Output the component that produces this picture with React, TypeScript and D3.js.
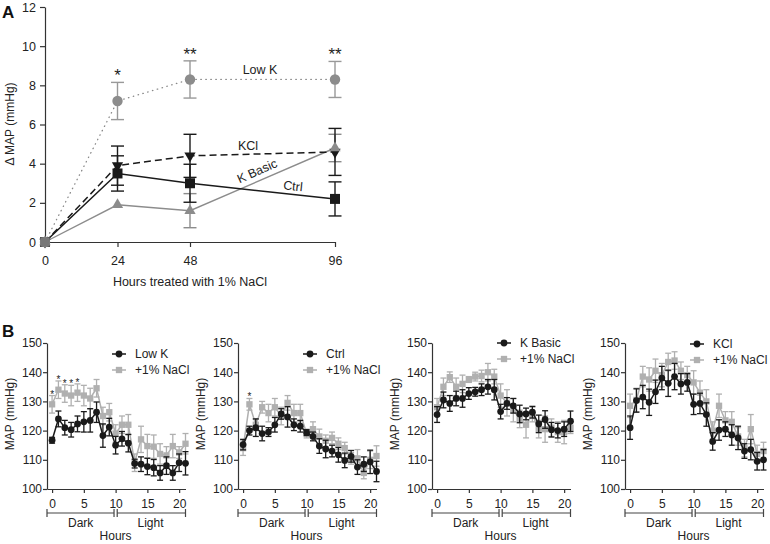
import React, { useEffect, useRef } from 'react';
import * as d3 from 'd3';

// ---- Panel A: change in MAP after 1% NaCl ----
const hoursA = [0, 24, 48, 96];
const lowK = [0, 7.2, 8.3, 8.3];
const lowKErr = [0, 0.95, 0.95, 0.92];
const kcl = [0, 3.9, 4.4, 4.6];
const kclErr = [0, 1.0, 1.1, 1.2];
const ctrl = [0, 3.5, 3.0, 2.2];
const ctrlErr = [0, 0.9, 0.97, 0.87];
const kBasic = [0, 1.9, 1.6, 4.8];
const kBasicErr = [0, 0, 0.87, 0.7];
const yTicksA = [0, 2, 4, 6, 8, 10, 12];
const starsA = ['', '*', '**', '**'];

// ---- Panel B: hourly MAP, baseline vs +1% NaCl ----
const hoursB = [0, 1, 2, 3, 4, 5, 6, 7, 8, 9, 10, 11, 12, 13, 14, 15, 16, 17, 18, 19, 20, 21];
const xTicksB = [0, 5, 10, 15, 20];
const yTicksB = [100, 110, 120, 130, 140, 150];

const lowKBase = [116.7, 124, 121, 120.3, 122.3, 123, 123.5, 126.3, 118.3, 121.2, 115, 117.2, 115.7, 108.7, 108.5, 107.7, 107.3, 105.5, 108, 105.5, 109, 108.8];
const lowKBaseErr = [1, 2.7, 2.5, 2.5, 2.7, 3.5, 4, 3.5, 4, 3, 3, 2.5, 3, 1.5, 2.5, 2.8, 2.8, 2.5, 3, 2.5, 3, 4];
const lowKSalt = [129, 134, 132.7, 132, 133, 132, 131, 134.5, 125, 126.3, 119, 122, 122, 109, 117, 114.7, 114.5, 112, 111.5, 114.7, 112.5, 115.5];
const lowKSaltErr = [3, 3, 3, 3.5, 3, 3.5, 3.5, 3, 3, 3, 3, 3, 3.5, 3, 4.5, 4, 4, 3.5, 3, 4, 2, 3.5];

const ctrlBase = [115.2, 120, 121, 119, 119.5, 122, 125.7, 124.7, 122, 121.5, 119.3, 118, 114.7, 113.7, 113, 111.7, 109.8, 111.2, 107.5, 108.5, 109.3, 106];
const ctrlBaseErr = [1.8, 1.5, 3, 2.5, 1.5, 2.5, 1.8, 3.5, 2, 2, 1, 1.5, 2.5, 3, 2, 2.5, 2.5, 2, 2.5, 2.5, 4, 3.5];
const ctrlSalt = [114, 129, 122, 128, 126, 128, 125, 129.5, 126, 126, 119, 120.5, 118, 116.5, 117.5, 115.5, 114, 110.5, 110.5, 105.5, 110, 111.3];
const ctrlSaltErr = [2.5, 2, 2, 2, 3, 3, 3, 2.5, 3, 3, 1.5, 2.5, 2.5, 2, 2, 2, 2, 2, 3, 2, 3, 3.5];

const kBasicBase = [125.5, 130.5, 129.3, 131, 131, 132.7, 133.3, 134, 135, 134, 126.5, 129.3, 128.5, 125.7, 125.7, 126.3, 122.3, 123.8, 120.3, 120, 120.5, 123.2];
const kBasicBaseErr = [2.7, 2.7, 2.7, 2.5, 3, 2, 1.5, 2, 2.5, 3.5, 2.5, 2, 2.5, 3, 2, 2, 3, 3, 2.5, 2.5, 2.5, 3.5];
const kBasicSalt = [128, 135, 138.3, 135, 136, 137.5, 138.5, 138.7, 140, 138.5, 132, 129.5, 127, 124, 122, 125.5, 120.5, 120.5, 121, 119.5, 119.5, 121];
const kBasicSaltErr = [3, 3, 1.8, 3, 3, 1, 1.5, 2, 3, 2.5, 4, 4.5, 4, 3, 4.5, 2.5, 3, 4.5, 3, 3.5, 4, 2];

const kclBase = [121, 130.3, 131.5, 129.7, 133.3, 138, 136.2, 138.5, 136, 136.5, 129, 129.3, 125.5, 116.3, 120.2, 120.5, 118.5, 117.5, 113, 113.5, 109.5, 110];
const kclBaseErr = [4, 4, 4, 4.5, 4, 4, 4.5, 4.5, 3.5, 3, 3.5, 3.5, 4, 3, 3.5, 2.5, 3.5, 4, 2.5, 3.5, 3, 3.5];
const kclSalt = [128.5, 130.5, 138.5, 137.5, 140.5, 139, 143.5, 144, 140.5, 139, 136.5, 133, 130, 120, 128.5, 123.5, 123, 118, 114, 120.5, 112, 113];
const kclSaltErr = [4, 4, 3.5, 4, 4, 4, 3, 3, 3, 3, 4, 4, 4, 3, 4, 3, 3.5, 3, 3, 5, 3, 3];

const lowKStars = [0, 1, 2, 3, 4];
const ctrlStars = [1];

const FONT = 'Arial, "Liberation Sans", Helvetica, sans-serif';
const BLACK = '#1a1a1a';
const GRAY_A = '#8c8c8c';
const GRAY_B = '#b0b0b0';
const AXIS = '#333';

function styleAxis(g, size) {
  g.attr('font-family', FONT).attr('font-size', size);
  g.selectAll('path, line').attr('stroke', AXIS).attr('stroke-width', 1.2);
  g.selectAll('text').attr('fill', '#222');
}

function errorBars(g, xs, vals, errs, x, y, color, capW, width) {
  xs.forEach((h, i) => {
    if (!errs[i]) return;
    const cx = x(h);
    const top = y(vals[i] + errs[i]);
    const bot = y(vals[i] - errs[i]);
    g.append('line').attr('x1', cx).attr('x2', cx).attr('y1', top).attr('y2', bot)
      .attr('stroke', color).attr('stroke-width', width);
    [top, bot].forEach(yy => {
      g.append('line').attr('x1', cx - capW / 2).attr('x2', cx + capW / 2).attr('y1', yy).attr('y2', yy)
        .attr('stroke', color).attr('stroke-width', width);
    });
  });
}

function markers(g, xs, vals, x, y, type, size, color, rotate = 0) {
  const sym = d3.symbol().type(type).size(size);
  g.selectAll(null).data(xs).enter().append('path')
    .attr('d', sym())
    .attr('transform', (h, i) => `translate(${x(h)},${y(vals[i])}) rotate(${rotate})`)
    .attr('fill', color);
}

function drawPanelA(svg) {
  const x = d3.scaleLinear().domain([0, 96]).range([45, 335]);
  const y = d3.scaleLinear().domain([0, 12]).range([242, 7]);

  const ay = svg.append('g').attr('transform', 'translate(45,0)')
    .call(d3.axisLeft(y).tickValues(yTicksA).tickSize(5).tickPadding(4).tickSizeOuter(0));
  styleAxis(ay, 12.5);
  const ax = svg.append('g').attr('transform', 'translate(0,242)')
    .call(d3.axisBottom(x).tickValues(hoursA).tickSize(5).tickPadding(9).tickSizeOuter(0));
  styleAxis(ax, 12.5);

  svg.append('text').attr('x', 190).attr('y', 286).attr('text-anchor', 'middle')
    .attr('font-size', 12.5).attr('fill', '#222').text('Hours treated with 1% NaCl');
  svg.append('text').attr('transform', 'translate(14,124) rotate(-90)').attr('text-anchor', 'middle')
    .attr('font-size', 12).attr('fill', '#222').text('Δ MAP (mmHg)');
  svg.append('text').attr('x', 2).attr('y', 18).attr('font-size', 17).attr('font-weight', 'bold')
    .attr('fill', '#111').text('A');

  const line = (vals) => d3.line().x((h) => x(h)).y((h, i) => y(vals[i]))(hoursA);
  const g = svg.append('g');

  // lines
  g.append('path').attr('d', line(kBasic)).attr('fill', 'none').attr('stroke', GRAY_A).attr('stroke-width', 1.4);
  g.append('path').attr('d', line(ctrl)).attr('fill', 'none').attr('stroke', BLACK).attr('stroke-width', 1.5);
  g.append('path').attr('d', line(kcl)).attr('fill', 'none').attr('stroke', BLACK).attr('stroke-width', 1.5)
    .attr('stroke-dasharray', '7,4');
  g.append('path').attr('d', line(lowK)).attr('fill', 'none').attr('stroke', '#888').attr('stroke-width', 1.3)
    .attr('stroke-dasharray', '0.5,4.5').attr('stroke-linecap', 'round');

  // error bars
  errorBars(g, hoursA, kBasic, kBasicErr, x, y, GRAY_A, 13, 1.4);
  errorBars(g, hoursA, ctrl, ctrlErr, x, y, BLACK, 13, 1.4);
  errorBars(g, hoursA, kcl, kclErr, x, y, BLACK, 13, 1.4);
  errorBars(g, hoursA, lowK, lowKErr, x, y, '#999', 13, 1.4);

  // markers
  markers(g, hoursA, ctrl, x, y, d3.symbolSquare, 100, BLACK);
  markers(g, hoursA, kcl, x, y, d3.symbolTriangle, 55, BLACK, 180);
  markers(g, hoursA, lowK, x, y, d3.symbolCircle, 85, GRAY_A);
  markers(g, hoursA, kBasic, x, y, d3.symbolTriangle, 55, GRAY_A);
  // overlapping start point
  markers(g, [0], [0], x, y, d3.symbolSquare, 90, '#777');

  // significance stars
  hoursA.forEach((h, i) => {
    if (!starsA[i]) return;
    g.append('text').attr('x', x(h)).attr('y', y(lowK[i] + lowKErr[i]) - 1)
      .attr('text-anchor', 'middle').attr('font-size', 17).attr('fill', '#222').text(starsA[i]);
  });

  // series labels
  const lab = (txt, cx, cy, rot) => g.append('text')
    .attr('transform', `translate(${cx},${cy}) rotate(${rot})`).attr('text-anchor', 'middle')
    .attr('dy', '0.35em').attr('font-size', 12.5).attr('fill', '#222').text(txt);
  lab('Low K', 260, 70, 0);
  lab('KCl', 248, 146, 0);
  lab('K Basic', 257, 171, -24);
  lab('Ctrl', 293, 186, 6);
}

function drawPanelB(svg, p) {
  const left = p.left;
  const x = d3.scaleLinear().domain([-0.8, 21]).range([left, left + 138.5]);
  const y = d3.scaleLinear().domain([100, 150]).range([489, 343]);

  const ay = svg.append('g').attr('transform', `translate(${left},0)`)
    .call(d3.axisLeft(y).tickValues(yTicksB).tickSize(4).tickPadding(1).tickSizeOuter(0));
  styleAxis(ay, 12);
  const ax = svg.append('g').attr('transform', 'translate(0,489)')
    .call(d3.axisBottom(x).tickValues(xTicksB).tickSize(4).tickPadding(6).tickSizeOuter(0));
  styleAxis(ax, 12);

  svg.append('text').attr('transform', `translate(${left - 33},414) rotate(-90)`).attr('text-anchor', 'middle')
    .attr('font-size', 12).attr('fill', '#222').text('MAP (mmHg)');

  // Dark / Light bracket
  const by = 513;
  const br = svg.append('g').attr('stroke', '#444').attr('stroke-width', 1.2);
  [[-0.8, 9.75], [10.25, 21]].forEach(([a, b]) => {
    br.append('line').attr('x1', x(a)).attr('x2', x(b)).attr('y1', by).attr('y2', by);
    br.append('line').attr('x1', x(a)).attr('x2', x(a)).attr('y1', by - 4).attr('y2', by + 4);
    br.append('line').attr('x1', x(b)).attr('x2', x(b)).attr('y1', by - 4).attr('y2', by + 4);
  });
  svg.append('text').attr('x', x(4.5)).attr('y', 527).attr('text-anchor', 'middle').attr('font-size', 12)
    .attr('fill', '#222').text('Dark');
  svg.append('text').attr('x', x(15.5)).attr('y', 527).attr('text-anchor', 'middle').attr('font-size', 12)
    .attr('fill', '#222').text('Light');
  svg.append('text').attr('x', x(10)).attr('y', 540).attr('text-anchor', 'middle').attr('font-size', 12)
    .attr('fill', '#222').text('Hours');

  const line = (vals) => d3.line().x((h) => x(h)).y((h, i) => y(vals[i]))(hoursB);
  const g = svg.append('g');

  g.append('path').attr('d', line(p.salt)).attr('fill', 'none').attr('stroke', GRAY_B).attr('stroke-width', 1.5);
  errorBars(g, hoursB, p.salt, p.saltErr, x, y, GRAY_B, 6, 1.3);
  markers(g, hoursB, p.salt, x, y, d3.symbolSquare, 40, GRAY_B);

  g.append('path').attr('d', line(p.base)).attr('fill', 'none').attr('stroke', BLACK).attr('stroke-width', 1.5);
  errorBars(g, hoursB, p.base, p.baseErr, x, y, BLACK, 6, 1.3);
  markers(g, hoursB, p.base, x, y, d3.symbolCircle, 36, BLACK);

  p.stars.forEach((h) => {
    g.append('text').attr('x', x(h)).attr('y', y(p.salt[h] + p.saltErr[h]) + 2)
      .attr('text-anchor', 'middle').attr('font-size', 10).attr('fill', '#222').text('*');
  });

  // legend
  const lx = left + 65;
  const entries = [
    { name: p.name, color: BLACK, type: d3.symbolCircle, size: 36, ly: p.legendY },
    { name: '+1% NaCl', color: GRAY_B, type: d3.symbolSquare, size: 40, ly: p.legendY + 16 },
  ];
  entries.forEach((e) => {
    svg.append('line').attr('x1', lx).attr('x2', lx + 14).attr('y1', e.ly).attr('y2', e.ly)
      .attr('stroke', e.color).attr('stroke-width', 1.5);
    svg.append('path').attr('d', d3.symbol().type(e.type).size(e.size)())
      .attr('transform', `translate(${lx + 7},${e.ly})`).attr('fill', e.color);
    svg.append('text').attr('x', lx + 23).attr('y', e.ly).attr('dy', '0.35em').attr('font-size', 12)
      .attr('fill', '#222').text(e.name);
  });
}

const App = () => {
  const ref = useRef<SVGSVGElement>(null);

  useEffect(() => {
    const svg = d3.select(ref.current);
    svg.selectAll('*').remove();
    svg.attr('font-family', FONT);

    drawPanelA(svg);

    svg.append('text').attr('x', 2).attr('y', 337).attr('font-size', 17).attr('font-weight', 'bold')
      .attr('fill', '#111').text('B');

    const panels = [
      { name: 'Low K', left: 47, legendY: 354, base: lowKBase, baseErr: lowKBaseErr, salt: lowKSalt, saltErr: lowKSaltErr, stars: lowKStars },
      { name: 'Ctrl', left: 238, legendY: 354, base: ctrlBase, baseErr: ctrlBaseErr, salt: ctrlSalt, saltErr: ctrlSaltErr, stars: ctrlStars },
      { name: 'K Basic', left: 432, legendY: 343, base: kBasicBase, baseErr: kBasicBaseErr, salt: kBasicSalt, saltErr: kBasicSaltErr, stars: [] },
      { name: 'KCl', left: 625, legendY: 344, base: kclBase, baseErr: kclBaseErr, salt: kclSalt, saltErr: kclSaltErr, stars: [] },
    ];
    panels.forEach((p) => drawPanelB(svg, p));
  }, []);

  return (
    <svg ref={ref} width={770} height={544}
      style={{ position: 'absolute', left: 0, top: 0, background: '#fff' }} />
  );
};

export default App;
